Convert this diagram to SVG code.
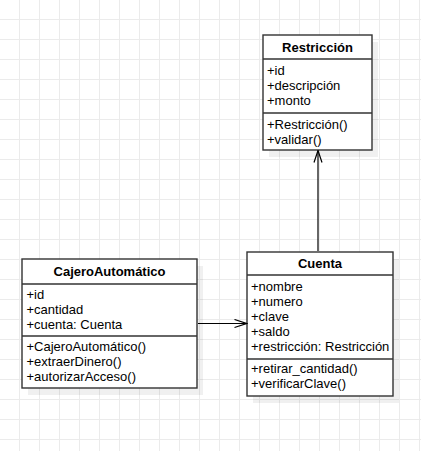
<svg xmlns="http://www.w3.org/2000/svg" width="421" height="451" viewBox="0 0 421 451">
<defs>
<pattern id="grid" patternUnits="userSpaceOnUse" x="19" y="19" width="20" height="20">
<path d="M0 0.5H20M0.5 0V20" fill="none" stroke="#ebebeb" stroke-width="1"/>
</pattern>
<marker id="open" viewBox="0 0 14 10" refX="13" refY="5" markerWidth="14" markerHeight="10" markerUnits="userSpaceOnUse" orient="auto">
<polyline points="1,1 13,5 1,9" fill="none" stroke="#000" stroke-width="1.2"/>
</marker>
</defs>
<style>
.shadow{fill:#000;fill-opacity:0.06;stroke:none}
.box{fill:#fff;stroke:#333;stroke-width:1.4}
.sep{stroke:#333;stroke-width:1.4}
.t{font-family:"Liberation Sans",Arial,sans-serif;font-size:13px;fill:#000}
.h{font-weight:bold;text-anchor:middle}
.edge{fill:none;stroke:#000;stroke-width:1.2}
</style>
<rect width="421" height="451" fill="#fff"/>
<rect width="421" height="451" fill="url(#grid)"/>

<g id="restriccion">
<rect class="shadow" x="269" y="42" width="109" height="115"/>
<rect class="box" x="263" y="35" width="109" height="115"/>
<line class="sep" x1="263" y1="59" x2="372" y2="59"/>
<line class="sep" x1="263" y1="113" x2="372" y2="113"/>
<text class="t h" x="317.5" y="52">Restricción</text>
<text class="t" x="267" y="74.5">+id</text>
<text class="t" x="267" y="89.5">+descripción</text>
<text class="t" x="267" y="104.5">+monto</text>
<text class="t" x="267" y="128.5">+Restricción()</text>
<text class="t" x="267" y="143.5">+validar()</text>
</g>

<g id="cajero">
<rect class="shadow" x="28" y="266" width="175" height="129"/>
<rect class="box" x="22" y="259" width="175" height="129"/>
<line class="sep" x1="22" y1="284" x2="197" y2="284"/>
<line class="sep" x1="22" y1="336" x2="197" y2="336"/>
<text class="t h" x="109.5" y="276">CajeroAutomático</text>
<text class="t" x="26.5" y="299">+id</text>
<text class="t" x="26.5" y="314">+cantidad</text>
<text class="t" x="26.5" y="329">+cuenta: Cuenta</text>
<text class="t" x="26.5" y="351">+CajeroAutomático()</text>
<text class="t" x="26.5" y="366">+extraerDinero()</text>
<text class="t" x="26.5" y="381">+autorizarAcceso()</text>
</g>

<g id="cuenta">
<rect class="shadow" x="253" y="259" width="146" height="144"/>
<rect class="box" x="247" y="252" width="146" height="144"/>
<line class="sep" x1="247" y1="275" x2="393" y2="275"/>
<line class="sep" x1="247" y1="359" x2="393" y2="359"/>
<text class="t h" x="320" y="268">Cuenta</text>
<text class="t" x="251" y="290.5">+nombre</text>
<text class="t" x="251" y="305.5">+numero</text>
<text class="t" x="251" y="320.5">+clave</text>
<text class="t" x="251" y="335.5">+saldo</text>
<text class="t" x="251" y="350.5">+restricción: Restricción</text>
<text class="t" x="251" y="373">+retirar_cantidad()</text>
<text class="t" x="251" y="388">+verificarClave()</text>
</g>

<g id="connectors">
<line class="edge" x1="198" y1="323.5" x2="246.5" y2="323.5" marker-end="url(#open)"/>
<line class="edge" x1="318" y1="251" x2="318" y2="150.5" marker-end="url(#open)"/>
</g>
</svg>
